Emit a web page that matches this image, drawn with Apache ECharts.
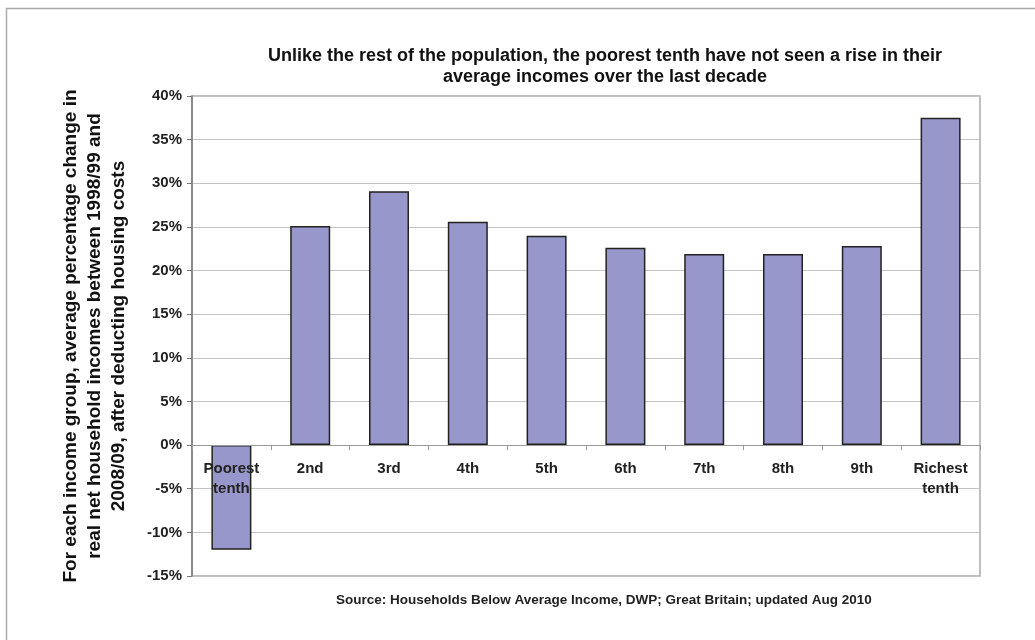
<!DOCTYPE html>
<html>
<head>
<meta charset="utf-8">
<script src="https://cdn.jsdelivr.net/npm/echarts@6/dist/echarts.min.js"></script>
<style>
html,body{margin:0;padding:0;background:#fff;}
#bar{width:1035px;height:640px;}
</style>
</head>
<body>
<div id="bar"></div>
<script>
// income tenths and % change 1998/99 - 2008/09 (AHC)
var groups = ['Poorest\ntenth', '2nd', '3rd', '4th', '5th', '6th', '7th', '8th', '9th', 'Richest\ntenth'];
var changePct = [-12, 25.1, 29.1, 25.6, 24.0, 22.6, 21.9, 21.9, 22.8, 37.5];
var yMin = -15, yMax = 40, yStep = 5;

var myChart = echarts.init(document.getElementById('bar'));

var gridTop = 96, gridBottom = 64;
var plotH = 640 - gridTop - gridBottom;
// x axis sits on the 0% line, labels with it
var zeroOffset = -(0 - yMin) / (yMax - yMin) * plotH;

var option = {
    animation: false,
    backgroundColor: '#fff',
    title: {
        text: 'Unlike the rest of the population, the poorest tenth have not seen a rise in their\naverage incomes over the last decade',
        left: 600,
        top: 41,
        textAlign: 'center',
        textStyle: {
            fontFamily: 'Liberation Sans',
            fontSize: 18,
            fontWeight: 'bold',
            color: '#111',
            lineHeight: 21
        }
    },
    graphic: [{
        type: 'rect',
        shape: {x: 6.5, y: 8.5, width: 1200, height: 800},
        style: {fill: 'none', stroke: '#aaa', lineWidth: 1.5},
        silent: true
    }, {
        type: 'text',
        left: 336,
        top: 593,
        style: {
            text: 'Source: Households Below Average Income, DWP; Great Britain; updated Aug 2010',
            font: 'bold 13.5px "Liberation Sans"',
            fill: '#222'
        }
    }],
    grid: {
        left: 192,
        right: 55,
        top: gridTop,
        bottom: gridBottom,
        show: true,
        borderColor: '#aaa',
        borderWidth: 1.5
    },
    xAxis: {
        type: 'category',
        data: groups,
        position: 'bottom',
        offset: zeroOffset,
        z: 10,
        axisLine: {onZero: false, lineStyle: {color: '#999', width: 1}},
        axisTick: {show: true, inside: false, length: 5, lineStyle: {color: '#999'}},
        axisLabel: {
            interval: 0,
            margin: 14,
            fontFamily: 'Liberation Sans',
            fontSize: 15,
            fontWeight: 'bold',
            color: '#222',
            lineHeight: 20
        }
    },
    yAxis: {
        type: 'value',
        min: yMin,
        max: yMax,
        interval: yStep,
        name: 'For each income group, average percentage change in\nreal net household incomes between 1998/99 and\n2008/09, after deducting housing costs',
        nameLocation: 'middle',
        nameRotate: 90,
        nameGap: 61,
        nameTextStyle: {
            fontFamily: 'Liberation Sans',
            fontSize: 19,
            fontWeight: 'bold',
            color: '#111',
            lineHeight: 24
        },
        axisLine: {show: true, lineStyle: {color: '#777', width: 1.5}},
        axisTick: {show: true, length: 5, lineStyle: {color: '#777'}},
        splitLine: {lineStyle: {color: '#c4c4c4', width: 1}},
        axisLabel: {
            formatter: '{value}%',
            margin: 10,
            fontFamily: 'Liberation Sans',
            fontSize: 15,
            fontWeight: 'bold',
            color: '#222'
        }
    },
    series: [{
        type: 'bar',
        data: changePct,
        barWidth: 40,
        itemStyle: {
            color: '#9797cb',
            borderColor: '#222',
            borderWidth: 1.5
        }
    }]
};

myChart.setOption(option);
</script>
</body>
</html>
